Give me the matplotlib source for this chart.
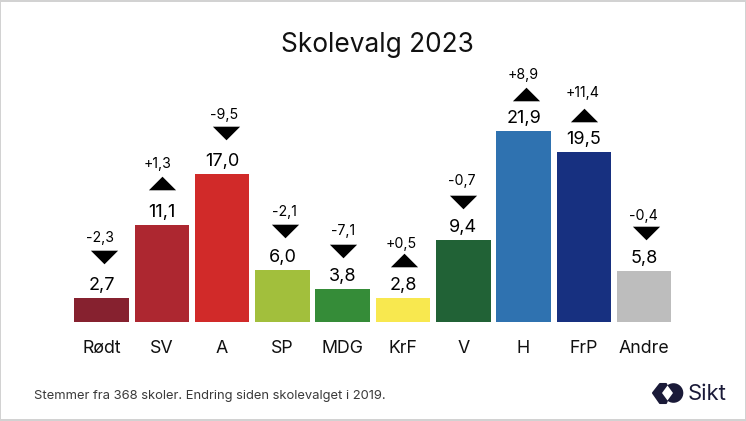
import matplotlib
matplotlib.use("Agg")
import matplotlib.pyplot as plt
from matplotlib.patches import Rectangle, Polygon, Circle, PathPatch
from matplotlib.path import Path
from matplotlib.transforms import Affine2D

plt.rcParams['font.family'] = ['Inter', 'DejaVu Sans']

parties = ["Rødt", "SV", "A", "SP", "MDG", "KrF", "V", "H", "FrP", "Andre"]
shares = [2.7, 11.1, 17.0, 6.0, 3.8, 2.8, 9.4, 21.9, 19.5, 5.8]
changes = [-2.3, 1.3, -9.5, -2.1, -7.1, 0.5, -0.7, 8.9, 11.4, -0.4]
colors = ["#86212F", "#AD2730", "#D12A29", "#A2BF3C", "#358C38",
          "#F8E84F", "#216236", "#2F72B0", "#173080", "#BDBDBD"]

# layout offsets in pixels above each bar top
tri_up = [41, 42, 41, 39, 38, 38, 38.5, 37, 37, 38]
delta_up = [60, 61, 59, 58, 58, 54, 59, 56, 59, 55]
tri_dx = [2.5, 0, 4, 2.5, 0, 1.5, 0, 2.5, 0, 1.5]
delta_dx = [-1.5, -4, 1.5, 2, 0.5, -2, -2, 0, -1, -1]

W, H = 746, 421
fig = plt.figure(figsize=(W / 100, H / 100), dpi=100, facecolor="white")

# frame of the slide
fig.add_artist(Rectangle((0, 0), 1, 1, transform=fig.transFigure, fc="white",
                         ec="none", zorder=-5))
for x0, y0, w, h in [(0, 0, W, 2), (0, H - 2, W, 2), (0, 0, 1.2, H), (W - 1.2, 0, 1.2, H)]:
    fig.add_artist(Rectangle((x0 / W, y0 / H), w / W, h / H, transform=fig.transFigure,
                             fc="#D2D2D2", ec="none"))

# axes: one category = 60.3 px, one unit = 8.72 px, baseline at y=322 px
left, right = 71.35, 674.35
bottom_px, top_px = 322, 60
ax = fig.add_axes([left / W, (H - bottom_px) / H, (right - left) / W, (bottom_px - top_px) / H])
ax.set_xlim(-0.5, 9.5)
ax.set_ylim(0, (bottom_px - top_px) / 8.72)
ax.axis("off")

xs = list(range(len(parties)))
ax.bar(xs, shares, width=0.905, color=colors, linewidth=0)

tri = Path([(-1, -0.5), (1, -0.5), (0, 0.5), (-1, -0.5)], closed=True)
fmt = lambda v: f"{v:.1f}".replace(".", ",")
for i, (x, v, c) in enumerate(zip(xs, shares, changes)):
    ax.annotate(fmt(v), (x, v), xytext=(0, 12.5), textcoords="offset pixels",
                ha="center", va="center", fontsize=13, color="black", annotation_clip=False)
    lab = ("+" if c > 0 else "") + fmt(c)
    ax.annotate(lab, (x, v), xytext=(delta_dx[i], delta_up[i]), textcoords="offset pixels",
                ha="center", va="center", fontsize=10.2, color="black", annotation_clip=False)
    m = tri if c > 0 else Path([(-1, 0.5), (1, 0.5), (0, -0.5), (-1, 0.5)], closed=True)
    ax.plot([x], [v], marker=m, ms=19.6, color="black", mew=0, clip_on=False,
            transform=ax.transData + Affine2D().translate(tri_dx[i], tri_up[i]))
    ax.annotate(parties[i], (x, 0), xytext=(0, -26.5), textcoords="offset pixels",
                ha="center", va="center", fontsize=12.8, color="#111111", annotation_clip=False)

def px(x, y):
    return x / W, 1 - y / H

fig.text(*px(377.5, 45), "Skolevalg 2023", ha="center", va="center", fontsize=18.9, color="#111111")
fig.text(*px(33.5, 396), "Stemmer fra 368 skoler. Endring siden skolevalget i 2019.",
         ha="left", va="center", fontsize=9.35, color="#3A3A3A")

# logo
navy = "#1A1A38"
fig.text(*px(688, 394), "Sikt", ha="left", va="center", fontsize=15.8, color=navy)
to_fig = Affine2D().scale(1, -1).translate(0, H) + Affine2D().scale(1 / W, 1 / H) + fig.transFigure
fig.add_artist(Polygon([(653, 393), (660, 384), (666, 384), (670, 393), (666, 403), (660, 403)],
                       closed=True, transform=to_fig, fc=navy, ec=navy, lw=1.5, joinstyle="round"))
fig.add_artist(Circle((673.5, 393), 9.8, transform=to_fig, fc=navy, ec="none"))
lens = Path([(667.5, 385.5), (673, 393), (667.5, 400.5), (662, 393), (667.5, 385.5)],
            [Path.MOVETO] + [Path.LINETO] * 4)
fig.add_artist(PathPatch(lens, transform=to_fig, fc="white", ec="none"))

fig.savefig("out.png", dpi=100)
